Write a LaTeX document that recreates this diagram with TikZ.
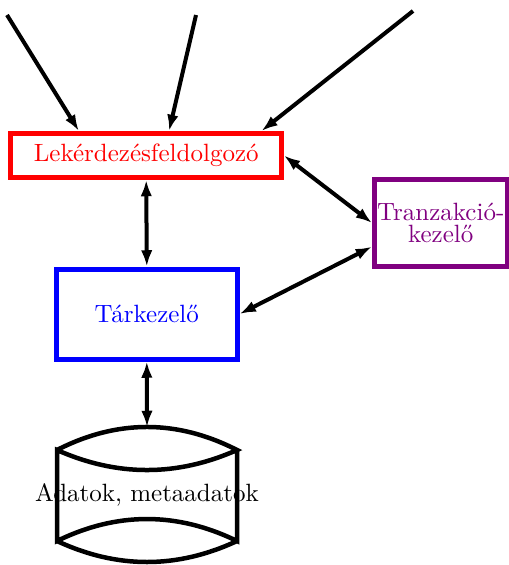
\documentclass[tikz,border=0pt]{standalone}
\usepackage{tikz}
\usetikzlibrary{arrows.meta}

\begin{document}
\begin{tikzpicture}[x=0.4pt, y=-0.4pt,
		doboz/.style={draw, rectangle, line width=2pt, inner sep=0pt},
		nyil/.style={line width=1.6pt, -{Latex[length=6.5pt, width=4.6pt]}},
		ketnyil/.style={line width=1.6pt, {Latex[length=6.5pt, width=4.6pt]}-{Latex[length=6.5pt, width=4.6pt]}}]
				\useasboundingbox (0,0) rectangle (508,565);
				\node[doboz, red, minimum width=108.2pt, minimum height=17.6pt] (lek) at (146.2,155.5) {Lekérdezésfeldolgozó};
				\node[doboz, blue, minimum width=72.2pt, minimum height=36pt] (tar) at (146.8,314) {Tárkezelő};
				\node[doboz, violet, minimum width=53pt, minimum height=34.8pt, align=center] (tranz) at (440.75,223) {Tranzakció-\\[-3.3pt]kezelő};
				\node[inner sep=0pt, outer sep=0pt, minimum width=72pt, minimum height=54.4pt] (adat) at (147,495) {Adatok, metaadatok};
				\coordinate (be1) at (7,15);
				\coordinate (be2) at (196,15);
				\coordinate (be3) at (413,11);
				\draw[line width=1.8pt] (57,450) .. controls (117,419.3) and (177,419.3) .. (237,450) .. controls (177,476.7) and (117,476.7) .. (57,450) -- (57,541) .. controls (117,511.7) and (177,511.7) .. (237,541) -- (237,450);
				\draw[line width=1.8pt] (57,541) .. controls (117,569) and (177,569) .. (237,541);
				\draw[nyil] (be1) -- (lek.160);
				\draw[nyil] (be2) -- (lek.47);
				\draw[nyil] (be3) -- (lek.12);
				\draw[ketnyil] (lek.south) -- (tar.north);
				\draw[ketnyil] (lek.east) -- (tranz.west);
				\draw[ketnyil] (tar.east) -- (tranz.199);
				\draw[ketnyil] (tar.south) -- (adat.north);
			\end{tikzpicture}
\end{document}
